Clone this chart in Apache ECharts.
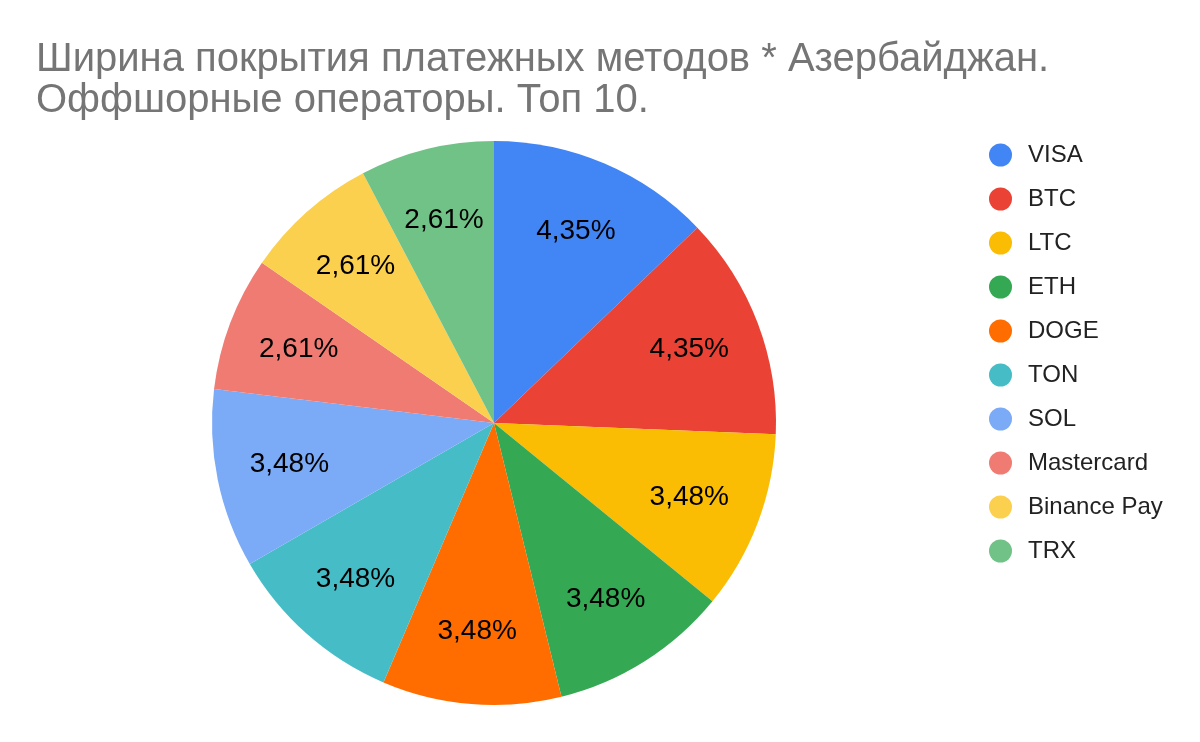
<!DOCTYPE html>
<html>
<head>
<meta charset="utf-8">
<script src="https://cdn.jsdelivr.net/npm/echarts@6/dist/echarts.min.js"></script>
<style>
  html, body { margin: 0; padding: 0; background: #fff; }
  #chart { width: 1200px; height: 742px; }
</style>
</head>
<body>
<div id="chart"></div>
<script>
var titleText = 'Ширина покрытия платежных методов * Азербайджан.\nОффшорные операторы. Топ 10.';
var methods = ['VISA', 'BTC', 'LTC', 'ETH', 'DOGE', 'TON', 'SOL', 'Mastercard', 'Binance Pay', 'TRX'];
var shares = [4.35, 4.35, 3.48, 3.48, 3.48, 3.48, 3.48, 2.61, 2.61, 2.61];
var colors = ['#4285F4', '#EA4335', '#FBBC04', '#34A853', '#FF6D01', '#46BDC6', '#7BAAF7', '#F07B72', '#FCD04F', '#71C287'];

var myChart = echarts.init(document.getElementById('chart'));
var R = 282;

var pieData = methods.map(function (name, i) {
  return { name: name, value: shares[i] };
});

var option = {
  color: colors,
  animation: false,
  textStyle: { fontFamily: 'Liberation Sans, Arial, sans-serif' },
  title: {
    text: titleText,
    left: 31,
    top: 34,
    textStyle: {
      color: '#757575',
      fontSize: 40,
      fontWeight: 'normal',
      lineHeight: 41
    }
  },
  legend: {
    orient: 'vertical',
    left: 984,
    top: 138,
    icon: 'circle',
    itemWidth: 23,
    itemHeight: 23,
    itemGap: 20,
    data: methods,
    textStyle: {
      color: '#222',
      fontSize: 24,
      padding: [0, 0, 0, 11]
    }
  },
  series: [
    {
      // the slices
      type: 'pie',
      center: [494, 423],
      radius: [0, R],
      startAngle: 90,
      clockwise: true,
      label: { show: false },
      labelLine: { show: false },
      data: pieData
    },
    {
      // transparent ring only to place the value labels further out
      type: 'pie',
      center: [494, 423],
      radius: [R * 0.46, R],
      startAngle: 90,
      clockwise: true,
      silent: true,
      itemStyle: { color: 'rgba(0,0,0,0)' },
      label: {
        show: true,
        position: 'inside',
        color: '#000',
        fontSize: 28,
        formatter: function (p) {
          return p.value.toFixed(2).replace('.', ',') + '%';
        }
      },
      labelLine: { show: false },
      data: pieData
    }
  ]
};

myChart.setOption(option);
</script>
</body>
</html>
